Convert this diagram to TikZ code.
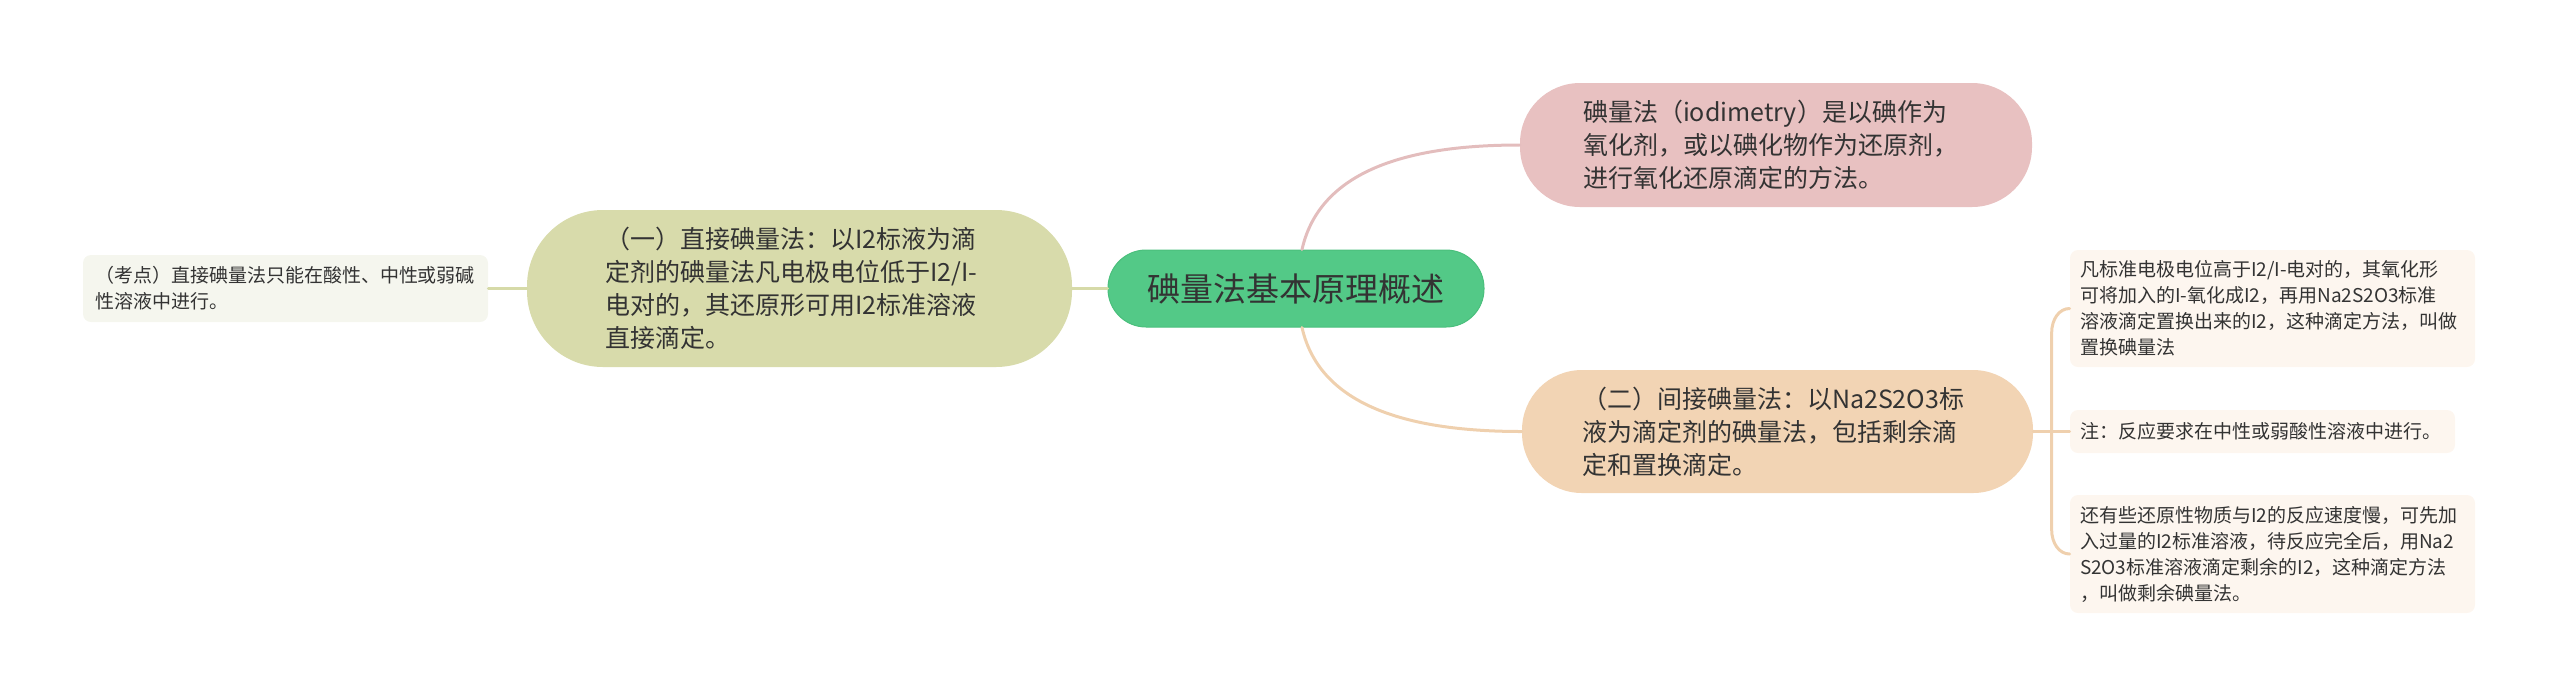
\documentclass[tikz,border=0pt]{standalone}
\usepackage{fontspec}
\setmainfont{Noto Sans CJK SC}
\usetikzlibrary{calc}
\definecolor{cgreen}{HTML}{53C987}
\definecolor{cgreenb}{HTML}{4ABF7C}
\definecolor{colive}{HTML}{D8DBAB}
\definecolor{cpink}{HTML}{E8C1C1}
\definecolor{corange}{HTML}{F2D4B4}
\definecolor{cleaf}{HTML}{F5F6EE}
\definecolor{cleafo}{HTML}{FDF6EF}
\definecolor{lpink}{HTML}{E3BDBD}
\definecolor{lorange}{HTML}{EFD0AE}
\definecolor{lolive}{HTML}{D6DAA8}
\definecolor{ctext}{HTML}{333333}
\begin{document}
\begin{tikzpicture}[x=0.5pt,y=-0.5pt,
  base/.style={inner ysep=0pt, text=ctext, align=left},
  rootbox/.style={base, fill=cgreen, draw=cgreenb, line width=0.5pt, rounded corners=19pt,
    minimum width=188pt, minimum height=38.5pt, inner xsep=0pt, align=center,
    font=\fontsize{16.5}{20}\selectfont},
  mainbox/.style={base, rounded corners=30pt, font=\fontsize{12.5}{16.5}\selectfont},
  leafbox/.style={base, rounded corners=4pt, font=\fontsize{9.5}{13}\selectfont},
  conn/.style={line width=1.5pt, line cap=round}
]
\useasboundingbox (0,0) rectangle (2560,698);

\node[rootbox] (root) at (1296,288.5) {碘量法基本原理概述};

\node[mainbox, fill=cpink, minimum width=256pt, minimum height=62pt,
  inner xsep=31.5pt, text width=193pt] (pink) at (1776,145)
  {碘量法（iodimetry）是以碘作为\\氧化剂，或以碘化物作为还原剂，\\进行氧化还原滴定的方法。};

\node[mainbox, fill=colive, minimum width=272.5pt, minimum height=78.5pt,
  rounded corners=38pt, inner xsep=39pt, text width=194.5pt] (olive) at (799.5,288.5)
  {（一）直接碘量法：以I2标液为滴\\定剂的碘量法凡电极电位低于I2/I-\\电对的，其还原形可用I2标准溶液\\直接滴定。};

\node[mainbox, fill=corange, minimum width=255.5pt, minimum height=61.5pt,
  inner xsep=30pt, text width=195.5pt] (orange) at (1777.5,431.5)
  {（二）间接碘量法：以Na2S2O3标\\液为滴定剂的碘量法，包括剩余滴\\定和置换滴定。};

\node[leafbox, fill=cleaf, minimum width=202.5pt, minimum height=33.5pt,
  inner xsep=6pt, text width=190.5pt] (far) at (285.5,288.5)
  {（考点）直接碘量法只能在酸性、中性或弱碱\\性溶液中进行。};

\node[leafbox, fill=cleafo, minimum width=202.5pt, minimum height=58.5pt,
  inner xsep=5pt, text width=192.5pt] (ra) at (2272.5,308.5)
  {凡标准电极电位高于I2/I-电对的，其氧化形\\可将加入的I-氧化成I2，再用Na2S2O3标准\\溶液滴定置换出来的I2，这种滴定方法，叫做\\置换碘量法};

\node[leafbox, fill=cleafo, minimum width=192.5pt, minimum height=21.5pt,
  inner xsep=5pt, text width=182.5pt] (rb) at (2262.5,431.5)
  {注：反应要求在中性或弱酸性溶液中进行。};

\node[leafbox, fill=cleafo, minimum width=202.5pt, minimum height=59pt,
  inner xsep=5pt, text width=192.5pt] (rc) at (2272.5,554)
  {还有些还原性物质与I2的反应速度慢，可先加\\入过量的I2标准溶液，待反应完全后，用Na2\\S2O3标准溶液滴定剩余的I2，这种滴定方法\\，叫做剩余碘量法。};

% connectors
\draw[conn, lolive] (root.west) -- (olive.east);
\draw[conn, lolive] (olive.west) -- (far.east);
\draw[conn, lpink] ([xshift=3pt]root.north) .. controls +(18,-80) and +(-110,0) .. (pink.west);
\draw[conn, lorange] ([xshift=3pt]root.south) .. controls +(18,80) and +(-110,0) .. (orange.west);

\coordinate (split) at ($(orange.east)!0.5!(rb.west)$);
\draw[conn, lorange] (orange.east) -- (rb.west);
\draw[conn, lorange] (split) -- ($(ra.west)+(-18,25)$) .. controls +(0,-15) and +(-10,0) .. (ra.west);
\draw[conn, lorange] (split) -- ($(rc.west)+(-18,-25)$) .. controls +(0,15) and +(-10,0) .. (rc.west);
\end{tikzpicture}
\end{document}
